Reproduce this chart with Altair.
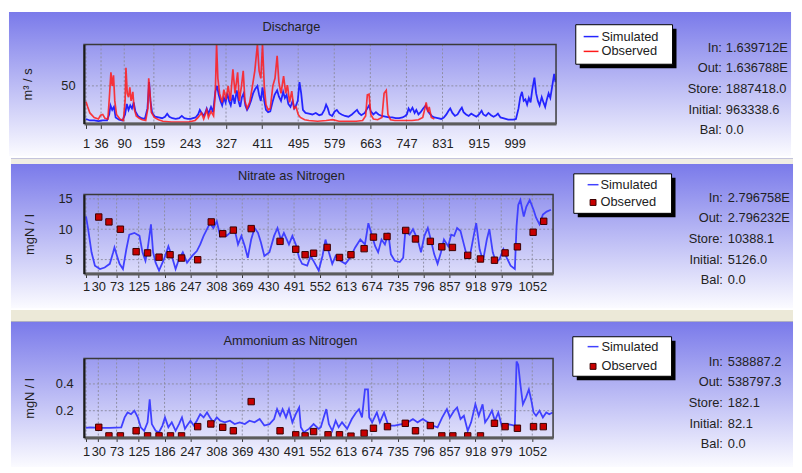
import altair as alt
import pandas as pd

# ---------------- values ----------------
# Discharge panel (day index, m3/s)
q_ticks = [1, 36, 90, 159, 243, 327, 411, 495, 579, 663, 747, 831, 915, 999]
q_yticks = [50]

q_sim_day = [1, 10, 20, 30, 40, 50, 55, 58, 62, 66,
             70, 78, 86, 92, 96, 100, 104, 108, 112, 116,
             122, 130, 138, 144, 148, 151, 155, 162, 170, 178,
             185, 190, 195, 202, 210, 218, 224, 230, 238, 245,
             250, 256, 262, 266, 270, 276, 282, 286, 292, 297,
             302, 306, 310, 314, 318, 322, 326, 330, 334, 338,
             343, 347, 352, 356, 360, 364, 368, 372, 376, 380,
             385, 390, 395, 400, 404, 408, 412, 416, 420, 425,
             430, 436, 440, 446, 450, 455, 460, 464, 468, 472,
             477, 482, 486, 490, 494, 498, 502, 506, 512, 520,
             528, 536, 544, 550, 556, 560, 564, 568, 574, 580,
             585, 590, 596, 604, 612, 620, 626, 632, 636, 642,
             650, 656, 660, 664, 670, 676, 682, 690, 698, 706,
             714, 722, 730, 738, 744, 748, 752, 756, 761, 766,
             770, 775, 780, 786, 792, 796, 800, 806, 812, 820,
             828, 834, 840, 845, 849, 854, 860, 866, 872, 876,
             880, 886, 892, 898, 904, 910, 916, 922, 926, 932,
             938, 944, 950, 956, 960, 966, 972, 978, 984, 990,
             996, 1002, 1008, 1012, 1016, 1020, 1024, 1028, 1032, 1036,
             1040, 1045, 1049, 1053, 1057, 1062, 1066, 1070, 1074, 1078,
             1082, 1086, 1091, 1094]
q_sim_val = [6, 4, 4, 3, 4, 4, 12, 24, 18, 22,
             8, 5, 4, 12, 26, 18, 24, 20, 28, 16,
             10, 7, 6, 20, 55, 30, 14, 9, 8, 7,
             9, 13, 9, 7, 6, 7, 10, 7, 6, 6,
             7, 8, 12, 18, 14, 10, 20, 13, 22, 15,
             42, 50, 38, 30, 24, 34, 28, 40, 30, 24,
             38, 26, 44, 30, 22, 35, 40, 24, 18, 22,
             30, 40, 46, 50, 38, 30, 48, 30, 18, 15,
             16, 30, 38, 44, 36, 30, 42, 34, 38, 26,
             22, 30, 20, 24, 30, 55, 40, 18, 14, 13,
             12, 14, 11, 12, 18, 25, 20, 12, 10, 16,
             18, 14, 12, 10, 9, 12, 15, 18, 14, 11,
             14, 20, 24, 16, 12, 15, 12, 10, 9, 8,
             8, 7, 7, 8, 10, 12, 20, 16, 21, 14,
             18, 12, 15, 20, 24, 18, 14, 10, 8, 7,
             6, 8, 12, 17, 20, 14, 10, 12, 18, 21,
             15, 12, 10, 13, 11, 9, 12, 17, 12, 10,
             14, 11, 9, 11, 13, 8, 7, 6, 5, 5,
             5, 6, 20, 35, 42, 30, 32, 25, 34, 28,
             45, 61, 40, 30, 24, 35, 28, 22, 32, 40,
             34, 48, 66, 55]

q_obs_day = [1, 5, 10, 20, 30, 35, 40, 45, 52, 56,
             59, 62, 65, 68, 72, 80, 88, 92, 94, 97,
             100, 103, 106, 110, 113, 118, 125, 132, 140, 145,
             147, 150, 153, 160, 170, 180, 200, 220, 240, 255,
             262, 270, 275, 282, 286, 292, 298, 302, 305, 308,
             312, 318, 322, 327, 332, 337, 343, 348, 354, 358,
             363, 367, 371, 376, 382, 388, 394, 400, 404, 408,
             412, 416, 420, 425, 430, 436, 441, 446, 450, 455,
             461, 466, 470, 475, 480, 485, 490, 495, 500, 510,
             520, 540, 560, 575, 590, 610, 630, 645, 652, 656,
             660, 664, 670, 680, 690, 695, 700, 704, 710, 720,
             740, 760, 775, 785, 790, 793, 797, 800, 805, 812]
q_obs_val = [29, 22, 14, 8, 6, 11, 12, 7, 6, 40,
             68, 50, 64, 30, 12, 6, 4, 30, 74, 40,
             35, 48, 30, 42, 20, 10, 7, 5, 4, 20,
             60, 40, 15, 8, 5, 3, 2, 2, 2, 4,
             8, 14, 6, 18, 8, 16, 10, 40, 105, 60,
             40, 28, 45, 32, 50, 30, 72, 40, 68, 30,
             50, 70, 30, 20, 28, 48, 70, 105, 70, 60,
             105, 50, 25, 18, 20, 50, 60, 90, 55, 40,
             63, 40, 51, 28, 43, 20, 22, 12, 8, 5,
             4, 3, 4, 5, 3, 3, 3, 4, 10, 38,
             39, 12, 6, 5, 8, 40, 44, 12, 5, 4,
             4, 4, 5, 8, 20, 28, 15, 22, 8, 6]

# Nitrate / Ammonium panels share the same category ticks
cat_ticks = [1, 30, 73, 125, 186, 247, 308, 369, 430, 491, 552, 613, 674,
             735, 796, 857, 918, 979, 1052]
n_yticks = [5, 10, 15]
a_yticks = [0.2, 0.4]

n_sim_day = [1, 6, 14, 22, 34, 45, 57, 65, 68, 74,
             80, 88, 96, 103, 115, 127, 134, 141, 146, 154,
             159, 165, 173, 185, 195, 203, 212, 220, 229, 239,
             251, 262, 270, 278, 286, 293, 301, 309, 317, 324,
             332, 340, 351, 359, 367, 375, 382, 390, 398, 406,
             413, 421, 433, 444, 452, 460, 467, 479, 487, 495,
             503, 510, 522, 530, 539, 549, 558, 565, 573, 581,
             589, 600, 612, 623, 635, 647, 658, 666, 674, 682,
             689, 697, 705, 713, 719, 728, 740, 748, 753, 763,
             771, 782, 790, 798, 806, 813, 821, 829, 837, 844,
             854, 861, 868, 875, 883, 891, 899, 906, 914, 920,
             928, 936, 945, 951, 959, 967, 975, 984, 992, 1001,
             1011, 1015, 1019, 1024, 1032, 1038, 1046, 1055, 1061, 1069,
             1077, 1086, 1096]
n_sim_val = [12.1, 10.0, 6.2, 4.0, 3.45, 3.7, 4.3, 6.2, 7.0, 5.6,
             4.3, 3.45, 6.7, 9.1, 9.4, 8.9, 6.2, 4.8, 6.7, 10.8,
             6.2, 4.5, 3.2, 5.1, 7.2, 5.6, 3.45, 5.1, 6.2, 4.5,
             5.6, 6.4, 7.5, 8.9, 10.0, 11.0, 10.2, 11.3, 8.9, 9.7,
             8.9, 9.4, 10.0, 7.5, 8.9, 7.2, 5.3, 8.3, 10.2, 9.4,
             7.8, 5.6, 6.2, 8.9, 10.2, 8.3, 9.4, 7.5, 8.9, 7.5,
             5.3, 4.3, 4.0, 5.6, 4.5, 3.2, 5.6, 8.3, 6.2, 4.3,
             5.6, 4.8, 4.3, 5.3, 7.0, 8.3, 7.5, 11.0, 9.1, 7.2,
             6.2, 8.3, 7.5, 9.4, 5.9, 4.8, 4.6, 5.3, 9.7, 9.1,
             10.0, 8.3, 6.2, 8.9, 10.2, 8.3, 5.9, 4.3, 6.2, 8.3,
             7.2, 9.1, 8.9, 10.2, 9.7, 7.5, 5.3, 5.9, 8.9, 11.0,
             6.7, 4.8, 8.3, 10.0, 6.2, 4.5, 5.1, 6.7, 5.3, 4.0,
             3.45, 10.5, 14.0, 14.8, 12.1, 13.7, 14.8, 13.2, 11.9, 10.8,
             12.4, 12.9, 13.2]
n_obs_day = [31, 55, 82, 119, 146, 173, 199, 226, 264, 296,
             323, 348, 390, 458, 495, 517, 537, 569, 598, 625,
             656, 678, 710, 754, 777, 812, 839, 864, 900, 930,
             963, 988, 1017, 1054, 1079]
n_obs_val = [12.0, 11.2, 10.0, 6.3, 6.1, 5.4, 5.8, 5.25, 4.97, 11.2,
             9.25, 9.85, 10.1, 8.0, 6.7, 5.8, 6.05, 7.0, 5.35, 5.8,
             6.8, 8.7, 8.8, 9.8, 8.4, 8.0, 7.1, 7.0, 5.7, 5.1,
             4.9, 6.1, 7.1, 9.5, 11.3]

a_sim_day = [1, 10, 34, 57, 84, 92, 99, 107, 115, 123,
             130, 138, 146, 151, 156, 165, 173, 181, 187, 195,
             203, 212, 220, 227, 234, 239, 247, 255, 262, 270,
             278, 286, 293, 301, 309, 317, 328, 340, 351, 363,
             375, 386, 398, 410, 421, 433, 444, 451, 458, 464,
             472, 479, 487, 495, 503, 507, 514, 526, 537, 549,
             554, 562, 567, 573, 581, 589, 596, 604, 616, 627,
             637, 644, 651, 658, 665, 668, 675, 686, 693, 703,
             713, 728, 744, 759, 771, 782, 794, 806, 817, 829,
             840, 851, 858, 868, 875, 883, 891, 900, 908, 918,
             926, 935, 941, 949, 957, 964, 972, 980, 992, 1003,
             1011, 1015, 1019, 1024, 1030, 1037, 1044, 1050, 1055, 1061,
             1069, 1077, 1085, 1092, 1100]
a_sim_val = [0.071, 0.076, 0.071, 0.071, 0.076, 0.15, 0.187, 0.174, 0.2, 0.15,
             0.076, 0.05, 0.113, 0.285, 0.1, 0.05, 0.039, 0.089, 0.15, 0.076,
             0.113, 0.05, 0.1, 0.15, 0.064, 0.089, 0.125, 0.089, 0.125, 0.174,
             0.15, 0.187, 0.15, 0.113, 0.15, 0.125, 0.113, 0.125, 0.1, 0.113,
             0.1, 0.125, 0.113, 0.138, 0.089, 0.1, 0.138, 0.212, 0.162, 0.212,
             0.15, 0.212, 0.113, 0.174, 0.224, 0.076, 0.039, 0.064, 0.1, 0.064,
             0.076, 0.162, 0.212, 0.1, 0.05, 0.125, 0.076, 0.113, 0.064, 0.138,
             0.187, 0.212, 0.15, 0.359, 0.359, 0.15, 0.113, 0.187, 0.113, 0.187,
             0.089, 0.089, 0.1, 0.113, 0.138, 0.113, 0.138, 0.113, 0.089, 0.076,
             0.15, 0.212, 0.15, 0.2, 0.224, 0.138, 0.162, 0.05, 0.113, 0.248,
             0.162, 0.248, 0.113, 0.15, 0.2, 0.125, 0.187, 0.089, 0.1, 0.095,
             0.089, 0.568, 0.543, 0.396, 0.248, 0.298, 0.359, 0.273, 0.187, 0.162,
             0.2, 0.15, 0.187, 0.174, 0.187]
a_obs_day = [31, 55, 82, 119, 146, 173, 200, 226, 264, 295,
             323, 348, 390, 458, 495, 517, 537, 571, 598, 625,
             656, 678, 711, 753, 777, 812, 839, 865, 900, 930,
             963, 988, 1017, 1055, 1078]
a_obs_val = [0.076, 0.012, 0.012, 0.05, 0.012, 0.012, 0.012, 0.012, 0.081, 0.101,
             0.076, 0.05, 0.268, 0.05, 0.02, 0.012, 0.044, 0.02, 0.02, 0.01,
             0.032, 0.069, 0.081, 0.106, 0.05, 0.089, 0.012, 0.012, 0.012, 0.012,
             0.106, 0.081, 0.069, 0.081, 0.081]

stat_labels = ["In:", "Out:", "Store:", "Initial:", "Bal:"]
q_stats = ["1.639712E", "1.636788E", "1887418.0", "963338.6", "0.0"]
n_stats = ["2.796758E", "2.796232E", "10388.1", "5126.0", "0.0"]
a_stats = ["538887.2", "538797.3", "182.1", "82.1", "0.0"]

# ---------------- styling ----------------
FONT = "Liberation Sans"
TXT = "#222222"
BLUE = "#2424ff"
BLUE2 = "#4040ff"
RED = "#ff1a1a"
SQ_FILL = "#c80000"
SQ_STROKE = "#3a0000"
GRID = "#8e8ea4"

ONE = pd.DataFrame({"k": [0]})


def grad():
    return alt.LinearGradient(
        gradient="linear", x1=0, y1=0, x2=0, y2=1,
        stops=[alt.GradientStop(offset=0, color="#7a7aea"),
               alt.GradientStop(offset=1, color="#fbfbff")])


def box(x0, x1, y0, y1, **kw):
    return alt.Chart(ONE).mark_rect(**kw).encode(
        x=alt.value(x0), x2=alt.value(x1), y=alt.value(y0), y2=alt.value(y1))


def label(x, y, s, align="left", size=13, color=TXT):
    return alt.Chart(ONE).mark_text(
        text=s, align=align, baseline="middle", font=FONT, fontSize=size,
        color=color).encode(x=alt.value(x), y=alt.value(y))


def panel(W, H, L, R, T, B, xdom, ydom, xticks, yticks, yfmt, ytitle,
          ytitle_x, ylabpad, xtick, xlabpad, sim, obs, obs_kind, sim_color,
          title, title_xy, leg, stats_vals, stats_x, stat_y, seps=()):
    xs = alt.Scale(domain=xdom, nice=False, zero=False)
    ys = alt.Scale(domain=ydom, nice=False, zero=False)
    xa = alt.Axis(values=xticks, format="d", title=None, grid=False,
                  labelOverlap=False, labelFlush=False, tickSize=xtick,
                  tickColor="#333333", domainColor="#5c5c5c", domainWidth=3,
                  labelPadding=xlabpad, labelFont=FONT, labelFontSize=13,
                  labelColor=TXT, zindex=1)
    ya = alt.Axis(values=yticks, format=yfmt, title=ytitle, grid=False,
                  ticks=False, domainColor="#1a1a1a", domainWidth=2,
                  labelPadding=ylabpad, labelFont=FONT, labelFontSize=13,
                  labelColor=TXT, titleFont=FONT, titleFontSize=13,
                  titleFontWeight="normal", titleColor=TXT, titleAngle=270,
                  titleX=ytitle_x, titleY=H / 2, titleAlign="center",
                  titleBaseline="middle", zindex=1)

    def X(f):
        return alt.X(f"{f}:Q", scale=xs, axis=xa)

    def Y(f):
        return alt.Y(f"{f}:Q", scale=ys, axis=ya)

    layers = []
    for (y0, y1, col) in seps:
        layers.append(box(-L, W + R, y0, y1, fill=col))
    layers.append(box(-L, W + R, -T, H + B, fill=grad()))
    layers.append(alt.Chart(pd.DataFrame({"t": xticks})).mark_rule(
        color=GRID, strokeDash=[2, 2], strokeWidth=1).encode(x=X("t")))
    layers.append(alt.Chart(pd.DataFrame({"t": yticks})).mark_rule(
        color=GRID, strokeDash=[2, 2], strokeWidth=1).encode(y=Y("t")))

    sim_df = pd.DataFrame({"day": sim[0], "v": sim[1]})
    obs_df = pd.DataFrame({"day": obs[0], "v": obs[1]})
    layers.append(alt.Chart(sim_df).mark_line(
        color=sim_color, strokeWidth=1.8, clip=True).encode(x=X("day"), y=Y("v")))
    if obs_kind == "line":
        layers.append(alt.Chart(obs_df).mark_line(
            color=RED, strokeWidth=1.7, opacity=0.85, clip=True).encode(
            x=X("day"), y=Y("v")))
    else:
        layers.append(alt.Chart(obs_df).mark_square(
            size=42, fill=SQ_FILL, stroke=SQ_STROKE, strokeWidth=1,
            opacity=1, clip=True).encode(x=X("day"), y=Y("v")))

    # plot frame
    layers.append(box(0, W, 0, H, fill="transparent", stroke="#3a3a3a",
                      strokeWidth=1.5))
    # title
    layers.append(label(title_xy[0], title_xy[1], title, align="center"))

    # legend box with drop shadow
    bx0, bx1, by0, by1, lx0, lx1, tx, y_sim, y_obs = leg
    layers.append(box(bx0 + 4, bx1 + 4, by0 + 4, by1 + 4, fill="#000000"))
    layers.append(box(bx0, bx1, by0, by1, fill="#ffffff", stroke="#000000",
                      strokeWidth=1))
    layers.append(alt.Chart(ONE).mark_rule(color=sim_color, strokeWidth=1.5).encode(
        x=alt.value(bx0 + lx0), x2=alt.value(bx0 + lx1), y=alt.value(y_sim)))
    if obs_kind == "line":
        layers.append(alt.Chart(ONE).mark_rule(color=RED, strokeWidth=1.5).encode(
            x=alt.value(bx0 + lx0), x2=alt.value(bx0 + lx1), y=alt.value(y_obs)))
    else:
        layers.append(alt.Chart(ONE).mark_square(
            size=36, fill=SQ_FILL, stroke=SQ_STROKE, strokeWidth=1,
            opacity=1).encode(x=alt.value(bx0 + (lx0 + lx1) / 2),
                              y=alt.value(y_obs)))
    layers.append(label(bx0 + tx, y_sim, "Simulated"))
    layers.append(label(bx0 + tx, y_obs, "Observed"))

    # water balance text
    for lab, val, yy in zip(stat_labels, stats_vals, stat_y):
        layers.append(label(stats_x[0], yy, lab, align="right"))
        layers.append(label(stats_x[1], yy, val))

    return alt.layer(*layers).properties(width=W, height=H)


STAT_Y = [4, 24, 45, 66, 87]

p1 = panel(W=478, H=80, L=76, R=238, T=33, B=33,
           xdom=[-3.6, 1095.3], ydom=[0, 105], xticks=q_ticks,
           yticks=q_yticks, yfmt="d", ytitle="m³ / s", ytitle_x=-57,
           ylabpad=9, xtick=5, xlabpad=9,
           sim=(q_sim_day, q_sim_val), obs=(q_obs_day, q_obs_val),
           obs_kind="line", sim_color=BLUE, title="Discharge",
           title_xy=(210, -18),
           leg=(498, 596, -20, 20, 8, 23, 26, -8, 7),
           stats_vals=q_stats, stats_x=(646, 650), stat_y=STAT_Y)

p2 = panel(W=475, H=80, L=74, R=243, T=31, B=35,
           xdom=[-3.65, 1101], ydom=[2.7, 15.7], xticks=cat_ticks,
           yticks=n_yticks, yfmt="d", ytitle="mgN / l", ytitle_x=-55,
           ylabpad=12, xtick=4, xlabpad=3,
           sim=(n_sim_day, n_sim_val), obs=(n_obs_day, n_obs_val),
           obs_kind="square", sim_color=BLUE2, title="Nitrate as Nitrogen",
           title_xy=(210, -19),
           leg=(496, 595, -21, 19, 14, 25, 27, -10, 8),
           stats_vals=n_stats, stats_x=(647, 652), stat_y=STAT_Y,
           seps=[(-37, -31, "#efede4"), (-37, -36, "#c4c4dc")])

p3 = panel(W=475, H=80, L=74, R=243, T=37, B=30,
           xdom=[-3.65, 1101], ydom=[0, 0.59], xticks=cat_ticks,
           yticks=a_yticks, yfmt=".1f", ytitle="mgN / l", ytitle_x=-55,
           ylabpad=11, xtick=4, xlabpad=4,
           sim=(a_sim_day, a_sim_val), obs=(a_obs_day, a_obs_val),
           obs_kind="square", sim_color=BLUE2, title="Ammonium as Nitrogen",
           title_xy=(209, -18),
           leg=(495, 595, -22, 18, 15, 26, 29, -12, 8),
           stats_vals=a_stats, stats_x=(647, 652), stat_y=STAT_Y,
           seps=[(-49, -37, "#ece9d8"), (-38, -37, "#b0b0c0")])

chart = alt.concat(p1, p2, p3, columns=1, spacing=0, align="none",
                   bounds="full", padding=0, background="white").configure(
    font=FONT, view=alt.ViewConfig(stroke="transparent"))

chart.save("out.html", embed_options={"renderer": "svg", "actions": False})
